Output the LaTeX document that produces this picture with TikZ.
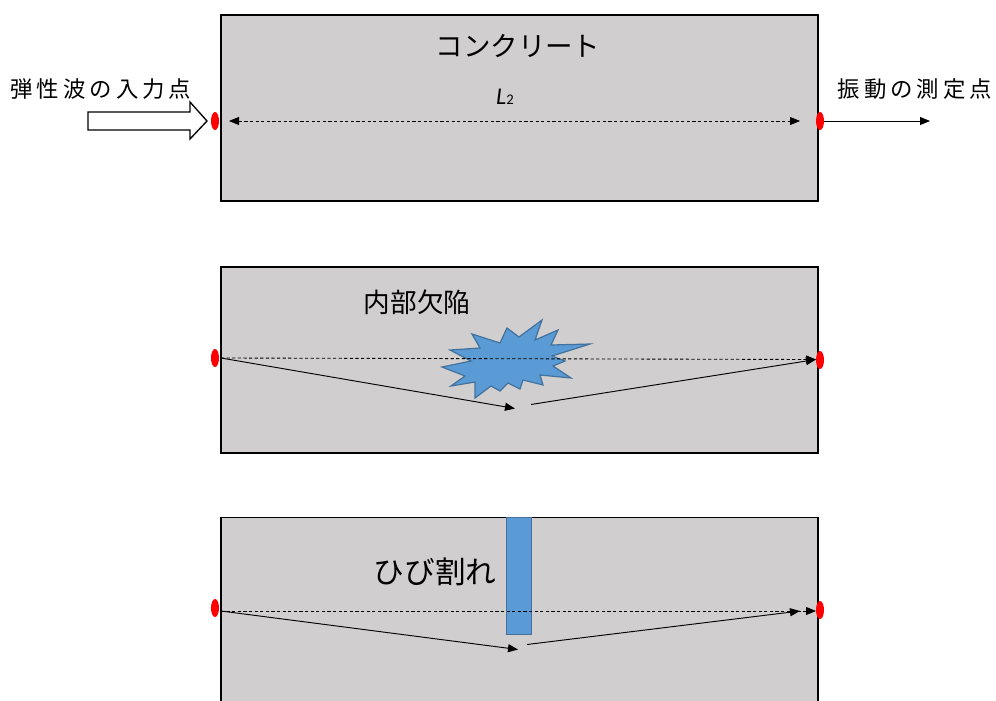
\documentclass[tikz,border=0pt]{standalone}
\usepackage{fontspec}
\newfontfamily\jpfont{Noto Sans CJK JP}
\newfontfamily\latfont{Carlito}
\usetikzlibrary{arrows.meta,shapes.geometric}
\definecolor{concrete}{HTML}{D0CECE}
\definecolor{defectfill}{HTML}{5B9BD5}
\definecolor{defectline}{HTML}{41719C}
\newcommand\gap{\kern3pt }
\begin{document}
\begin{tikzpicture}[x=0.75pt,y=-0.75pt,
  slab/.style={draw=black, line width=1.1pt, fill=concrete, inner sep=0pt},
  sensordot/.style={ellipse, fill=red, draw=none, minimum width=6pt, minimum height=13.5pt, inner sep=0pt},
  tip/.style={-{Triangle[length=7.5pt,width=6pt]}},
  ray/.style={line width=0.7pt, tip},
  direct/.style={line width=0.65pt, dash pattern=on 2.4pt off 1.8pt, tip},
  defect/.style={draw=defectline, fill=defectfill, line width=0.9pt},
  bigjp/.style={font=\jpfont\fontsize{20.6}{24}\selectfont},
  midjp/.style={font=\jpfont\fontsize{20}{24}\selectfont},
  smalljp/.style={font=\jpfont\fontsize{16.8}{20}\selectfont},
]
\clip (0,0) rectangle (996,700);
\fill[white] (0,0) rectangle (996,700);

% ---------- sound concrete ----------
\node[slab, minimum width=447.75pt, minimum height=139.5pt] (slab1) at (519.5,108) {};
\node[bigjp] (title1) at (518,46) {コンクリート};
\node[font=\latfont, inner sep=0pt] (len) at (505,97) {{\fontsize{18}{20}\selectfont\itshape L}{\fontsize{11}{12}\selectfont 2}};
\node[smalljp] (inlabel) at (101,89) {弾\gap 性\gap 波\gap の\gap 入\gap 力\gap 点};
\node[smalljp] (outlabel) at (915,89) {振\gap 動\gap の\gap 測\gap 定\gap 点};

% input arrow (block arrow)
\draw[line width=1pt, fill=white] (88,112) -- (190,112) -- (190,102) -- (207,121) -- (190,139) -- (190,130) -- (88,130) -- cycle;
\node[sensordot] (in1) at (215,121) {};
\node[sensordot] (out1) at (820,121) {};
\coordinate (a1s) at (229,121);
\coordinate (a1e) at (800,121);
\coordinate (probe) at (930,121);
\draw[direct, {Triangle[length=7.5pt,width=6pt]}-{Triangle[length=7.5pt,width=6pt]}] (a1s) -- (a1e);
\draw[ray] (out1.east) -- (probe);

% ---------- internal defect ----------
\node[slab, minimum width=447.75pt, minimum height=139.5pt] (slab2) at (519.5,360) {};
\node[midjp] (title2) at (417,302) {内部欠陥};
\draw[defect] (542,320) -- (535,340) -- (558,330) -- (551,345) -- (590,344) -- (552,356)
  -- (565,361) -- (553,366) -- (571,378) -- (540,375) -- (543,385) -- (523,380)
  -- (520,389) -- (508,383) -- (500,391) -- (491,386) -- (475,398) -- (475,382)
  -- (451,386) -- (465,376) -- (442,367) -- (471,361) -- (450,350) -- (480,348)
  -- (472,334) -- (500,343) -- (507,328) -- (519,337) -- cycle;
\node[sensordot] (in2) at (215,358) {};
\node[sensordot] (out2) at (820,360) {};
\coordinate (b2s) at (221,358);
\coordinate (b2e) at (816,359.5);
\coordinate (b2d) at (515,408.5);
\coordinate (b2r) at (531,404.5);
\draw[direct] (b2s) -- (b2e);
\draw[ray] (b2s) -- (b2d);
\draw[ray] (b2r) -- (b2e);

% ---------- crack ----------
\node[slab, minimum width=447.75pt, minimum height=151.9pt] (slab3) at (519.5,618.75) {};
\node[font=\jpfont\fontsize{23}{26}\selectfont] (title3) at (435,572) {ひび割れ};
\node[defect, minimum width=18.75pt, minimum height=87.75pt, inner sep=0pt] (crack) at (519,576) {};
\node[sensordot] (in3) at (215,608) {};
\node[sensordot] (out3) at (820,610) {};
\coordinate (c3s) at (221,611);
\coordinate (c3e) at (816,611);
\coordinate (c3d) at (518,649.5);
\coordinate (c3r) at (527,644.5);
\coordinate (c3f) at (800,611);
\draw[direct] (c3s) -- (c3e);
\draw[ray] (c3s) -- (c3d);
\draw[ray] (c3r) -- (c3f);
\end{tikzpicture}
\end{document}
